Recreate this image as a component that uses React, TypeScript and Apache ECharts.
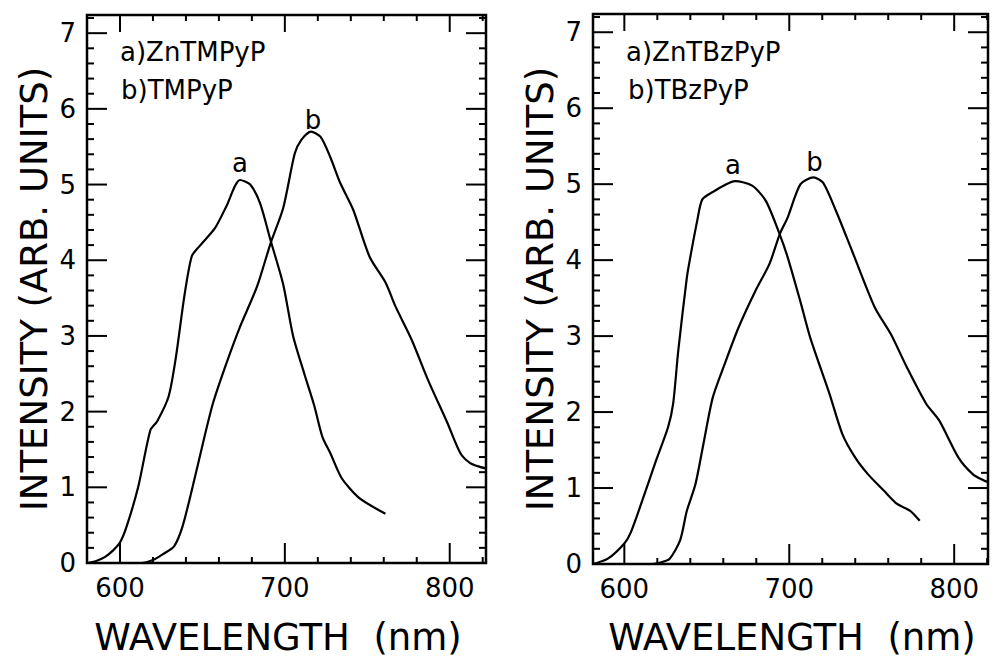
import React, { useEffect, useRef } from "react";
import * as echarts from "echarts";

// ---- Data ----
// Left panel: a) ZnTMPyP, b) TMPyP
const leftAWl = [580.5, 586, 591, 596, 600, 604, 611, 618.5, 622.5, 629.5, 634, 639, 643.5, 648, 657.5, 664.5, 672.8, 679, 685, 691.5, 699, 705, 711.8, 717.8, 722.7, 727.6, 734.5, 745, 761];
const leftAInt = [0, 0.03, 0.08, 0.17, 0.27, 0.48, 1.0, 1.76, 1.87, 2.2, 2.73, 3.52, 4.05, 4.18, 4.42, 4.71, 5.06, 5.0, 4.75, 4.25, 3.68, 3.0, 2.5, 2.08, 1.67, 1.45, 1.12, 0.86, 0.65];
const leftBWl = [600, 605, 613, 620, 625.6, 632.8, 637.9, 644.1, 650.3, 656.4, 664.6, 672.8, 683.1, 691.3, 699, 706, 710, 715.8, 721.7, 727.6, 733.6, 741.4, 751.3, 761.2, 767.1, 776.9, 786.8, 798.6, 806.5, 812.4, 818.3, 822];
const leftBInt = [0, 0, 0, 0.04, 0.11, 0.22, 0.48, 1.01, 1.58, 2.11, 2.64, 3.12, 3.65, 4.22, 4.69, 5.41, 5.59, 5.7, 5.63, 5.36, 5.02, 4.67, 4.05, 3.7, 3.39, 2.95, 2.42, 1.85, 1.45, 1.32, 1.27, 1.25];

// Right panel: a) ZnTBzPyP, b) TBzPyP
const rightAWl = [581, 590, 600, 604, 610.8, 619.2, 626.5, 629.6, 632.7, 637.9, 640, 644.2, 647.3, 654.6, 661, 667.1, 677.5, 685.8, 694.2, 699, 706.8, 712.7, 724.4, 732.2, 740, 747.8, 757.6, 765.4, 773.3, 779.1];
const rightAInt = [0, 0.07, 0.27, 0.42, 0.83, 1.36, 1.8, 2.11, 2.81, 3.77, 4.04, 4.52, 4.8, 4.91, 4.99, 5.04, 4.98, 4.78, 4.34, 4.04, 3.45, 2.98, 2.24, 1.71, 1.4, 1.18, 0.96, 0.79, 0.7, 0.57];
const rightBWl = [605, 612, 617, 622, 627.5, 633.8, 637.9, 643.1, 648.3, 653.6, 660.8, 669.2, 679.6, 688, 694.2, 699, 706.8, 714.7, 720.5, 728.3, 738.1, 751.8, 761.5, 771.3, 783, 790.9, 802.6, 811.4, 818, 820.5];
const rightBInt = [0, 0, 0, 0.02, 0.07, 0.31, 0.7, 1.05, 1.62, 2.19, 2.63, 3.11, 3.6, 3.95, 4.34, 4.56, 5.0, 5.09, 5.02, 4.65, 4.12, 3.38, 3.03, 2.59, 2.11, 1.89, 1.4, 1.18, 1.1, 1.08];

// Tick labels
const xTickLabels = [600, 700, 800];
const yTickLabels = [0, 1, 2, 3, 4, 5, 6, 7];
const leftLegend = ["a)ZnTMPyP", "b)TMPyP"];
const rightLegend = ["a)ZnTBzPyP", "b)TBzPyP"];
const curveNames = ["a", "b"];
const xTitle = "WAVELENGTH  (nm)";
const yTitle = "INTENSITY (ARB. UNITS)";

const FONT = "DejaVu Sans";

const xMinor = [620, 640, 660, 680, 720, 740, 760, 780, 820];
const yMinor = [
  0.2, 0.4, 0.6, 0.8, 1.2, 1.4, 1.6, 1.8, 2.2, 2.4, 2.6, 2.8, 3.2, 3.4, 3.6, 3.8,
  4.2, 4.4, 4.6, 4.8, 5.2, 5.4, 5.6, 5.8, 6.2, 6.4, 6.6, 6.8, 7.2,
];

function argmax(a: number[]) {
  let m = 0;
  a.forEach((v, i) => {
    if (v > a[m]) m = i;
  });
  return m;
}

export default function App() {
  const ref = useRef<HTMLDivElement>(null);
  useEffect(() => {
    if (!ref.current) return;
    const chart = echarts.init(ref.current, undefined, { renderer: "svg" });

    const grids = [
      { left: 87, top: 15, width: 399, height: 548, min: 580, max: 822 },
      { left: 593, top: 14, width: 395, height: 550, min: 581, max: 820.5 },
    ];
    const yMax = 7.24;
    const frameW = 2.5;

    const xAxes: any[] = [];
    const yAxes: any[] = [];
    const series: any[] = [];

    grids.forEach((g, gi) => {
      xAxes.push({
        gridIndex: gi,
        type: "value",
        min: g.min,
        max: g.max,
        position: "bottom",
        splitLine: { show: false },
        axisLine: { show: false },
        axisTick: { show: false },
        axisLabel: { show: true, customValues: xTickLabels, fontFamily: FONT, fontSize: 26, color: "#000", margin: 12 },
      });
      yAxes.push({
        gridIndex: gi,
        type: "value",
        min: 0,
        max: yMax,
        position: "left",
        splitLine: { show: false },
        axisLine: { show: false },
        axisTick: { show: false },
        axisLabel: { show: true, customValues: yTickLabels, fontFamily: FONT, fontSize: 26, color: "#000", margin: 11 },
      });
    });

    const curves = [
      { gi: 0, xs: leftAWl, ys: leftAInt, name: curveNames[0], off: [0, -17] },
      { gi: 0, xs: leftBWl, ys: leftBInt, name: curveNames[1], off: [2, -12] },
      { gi: 1, xs: rightAWl, ys: rightAInt, name: curveNames[0], off: [-2, -16] },
      { gi: 1, xs: rightBWl, ys: rightBInt, name: curveNames[1], off: [1, -15] },
    ];

    curves.forEach((c) => {
      series.push({
        type: "line",
        xAxisIndex: c.gi,
        yAxisIndex: c.gi,
        showSymbol: false,
        symbol: "none",
        smooth: 0.25,
        clip: true,
        lineStyle: { color: "#000", width: 2.2 },
        data: c.xs.map((x, i) => [x, c.ys[i]]),
        silent: true,
      });
      const pk = argmax(c.ys);
      series.push({
        type: "scatter",
        xAxisIndex: c.gi,
        yAxisIndex: c.gi,
        symbolSize: 0,
        silent: true,
        itemStyle: { opacity: 1 },
        data: [[c.xs[pk], c.ys[pk]]],
        label: {
          show: true,
          position: "inside",
          formatter: c.name,
          offset: c.off,
          fontFamily: FONT,
          fontSize: 26,
          color: "#000",
          opacity: 1,
        },
      });
    });

    const textStyle = (t: string, size: number, align: string) => ({
      text: t,
      fill: "#000",
      font: `${size}px "${FONT}"`,
      align,
      verticalAlign: "middle",
    });

    const texts: any[] = [
      { type: "text", x: 120, y: 52, style: textStyle(leftLegend[0], 26, "left") },
      { type: "text", x: 121, y: 90, style: textStyle(leftLegend[1], 26, "left") },
      { type: "text", x: 626, y: 52, style: textStyle(rightLegend[0], 26, "left") },
      { type: "text", x: 628, y: 90, style: textStyle(rightLegend[1], 26, "left") },
      { type: "text", x: 278, y: 637, style: textStyle(xTitle, 37, "center") },
      { type: "text", x: 792, y: 637, style: textStyle(xTitle, 37, "center") },
      { type: "text", x: 34, y: 289, rotation: Math.PI / 2, style: textStyle(yTitle, 37, "center") },
      { type: "text", x: 540, y: 289, rotation: Math.PI / 2, style: textStyle(yTitle, 37, "center") },
    ];

    chart.setOption({
      animation: false,
      backgroundColor: "#fff",
      grid: grids.map((g) => ({
        left: g.left,
        top: g.top,
        width: g.width,
        height: g.height,
        show: true,
        borderColor: "#000",
        borderWidth: frameW,
        backgroundColor: "transparent",
        containLabel: false,
        outerBoundsMode: "none",
      })),
      xAxis: xAxes,
      yAxis: yAxes,
      series,
    });

    // Tick marks positioned through the chart's own scales (convertToPixel)
    const ticks: any[] = [];
    grids.forEach((g, gi) => {
      const toPx = (x: number, y: number) =>
        chart.convertToPixel({ xAxisIndex: gi, yAxisIndex: gi } as any, [x, y]) as number[];
      const bl = toPx(g.min, 0);
      const tr = toPx(g.max, yMax);
      const bottom = bl[1];
      const top = tr[1];
      const left = bl[0];
      const right = tr[0];
      const seg = (x1: number, y1: number, x2: number, y2: number) => {
        ticks.push({
          type: "line",
          shape: { x1, y1, x2, y2 },
          style: { stroke: "#000", lineWidth: 2 },
          z: 10,
        });
      };
      const addX = (v: number, lb: number, lt: number) => {
        const p = toPx(v, 0);
        seg(p[0], bottom, p[0], bottom - lb);
        seg(p[0], top, p[0], top + lt);
      };
      const addY = (v: number, l: number) => {
        const p = toPx(g.min, v);
        seg(left, p[1], left + l, p[1]);
        seg(right, p[1], right - l, p[1]);
      };
      xMinor.forEach((v) => addX(v, 6, 6));
      xTickLabels.forEach((v) => addX(v, 20, 17));
      yMinor.forEach((v) => addY(v, 7));
      yTickLabels.forEach((v) => { if (v > 0) addY(v, 20); });
    });

    chart.setOption({ graphic: texts.concat(ticks) });

    return () => chart.dispose();
  }, []);

  return (
    <div
      ref={ref}
      style={{ position: "fixed", left: 0, top: 0, width: 992, height: 660, background: "#fff" }}
    />
  );
}
